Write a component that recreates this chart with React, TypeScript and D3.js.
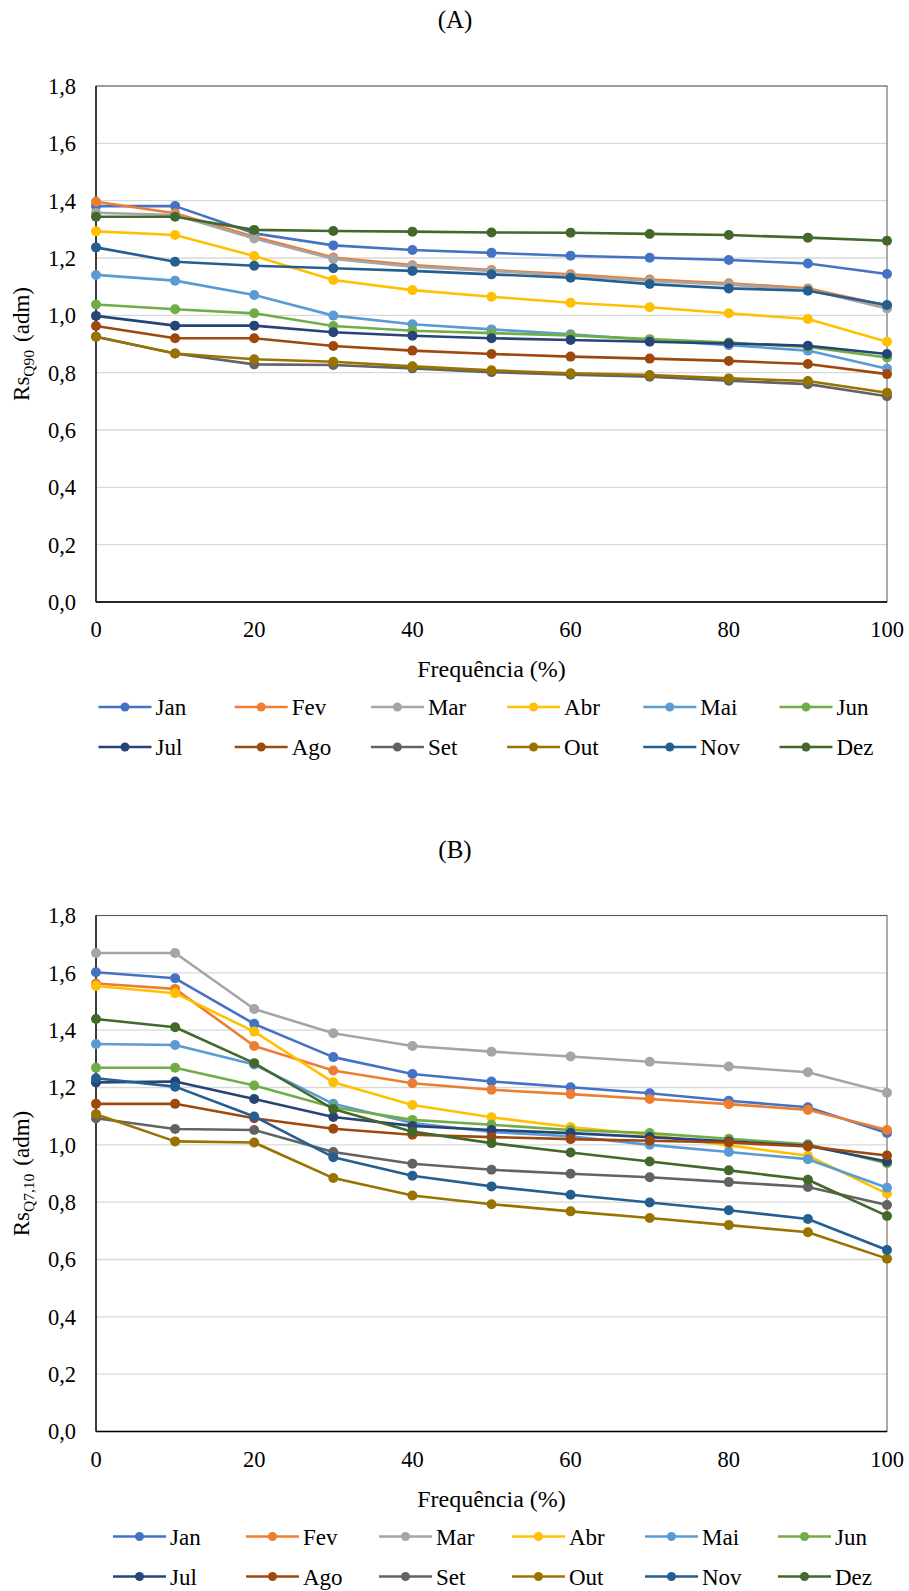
import React from 'react';
import * as d3 from 'd3';

const freq = [0, 10, 20, 30, 40, 50, 60, 70, 80, 90, 100];
const months = ['Jan', 'Fev', 'Mar', 'Abr', 'Mai', 'Jun', 'Jul', 'Ago', 'Set', 'Out', 'Nov', 'Dez'];
const colors = ['#4472C4', '#ED7D31', '#A5A5A5', '#FFC000', '#5B9BD5', '#70AD47', '#264478', '#9E480E', '#636363', '#997300', '#255E91', '#43682B'];
const yTicks = [0, 0.2, 0.4, 0.6, 0.8, 1.0, 1.2, 1.4, 1.6, 1.8];
const xTicks = [0, 20, 40, 60, 80, 100];

// (A) Rs Q90
const q90Jan = [1.381, 1.381, 1.286, 1.244, 1.228, 1.218, 1.208, 1.201, 1.193, 1.181, 1.144];
const q90Fev = [1.396, 1.356, 1.274, 1.202, 1.175, 1.158, 1.143, 1.125, 1.112, 1.094, 1.033];
const q90Mar = [1.358, 1.350, 1.268, 1.197, 1.170, 1.155, 1.138, 1.120, 1.107, 1.090, 1.024];
const q90Abr = [1.293, 1.280, 1.207, 1.123, 1.088, 1.065, 1.044, 1.028, 1.007, 0.987, 0.908];
const q90Mai = [1.141, 1.121, 1.071, 0.999, 0.969, 0.951, 0.934, 0.914, 0.896, 0.877, 0.814];
const q90Jun = [1.038, 1.021, 1.007, 0.963, 0.946, 0.938, 0.930, 0.917, 0.905, 0.890, 0.853];
const q90Jul = [0.998, 0.964, 0.964, 0.941, 0.929, 0.920, 0.914, 0.908, 0.902, 0.894, 0.865];
const q90Ago = [0.963, 0.920, 0.920, 0.893, 0.877, 0.865, 0.856, 0.849, 0.841, 0.830, 0.795];
const q90Set = [0.925, 0.867, 0.829, 0.827, 0.815, 0.802, 0.793, 0.786, 0.772, 0.760, 0.718];
const q90Out = [0.925, 0.867, 0.847, 0.838, 0.822, 0.808, 0.798, 0.792, 0.780, 0.771, 0.730];
const q90Nov = [1.237, 1.187, 1.173, 1.164, 1.155, 1.143, 1.131, 1.109, 1.094, 1.086, 1.036];
const q90Dez = [1.344, 1.344, 1.298, 1.294, 1.292, 1.289, 1.288, 1.284, 1.280, 1.271, 1.260];

// (B) Rs Q7,10
const q710Jan = [1.602, 1.581, 1.422, 1.306, 1.247, 1.221, 1.201, 1.180, 1.154, 1.131, 1.041];
const q710Fev = [1.563, 1.544, 1.345, 1.259, 1.215, 1.192, 1.177, 1.160, 1.142, 1.122, 1.052];
const q710Mar = [1.669, 1.669, 1.474, 1.389, 1.345, 1.325, 1.308, 1.290, 1.273, 1.253, 1.182];
const q710Abr = [1.554, 1.529, 1.395, 1.218, 1.139, 1.096, 1.062, 1.035, 0.998, 0.962, 0.830];
const q710Mai = [1.352, 1.348, 1.280, 1.143, 1.076, 1.045, 1.030, 1.000, 0.975, 0.950, 0.850];
const q710Jun = [1.269, 1.269, 1.207, 1.131, 1.087, 1.070, 1.052, 1.041, 1.021, 1.002, 0.936];
const q710Jul = [1.218, 1.221, 1.160, 1.097, 1.066, 1.052, 1.041, 1.027, 1.012, 0.997, 0.942];
const q710Ago = [1.143, 1.143, 1.093, 1.056, 1.035, 1.027, 1.020, 1.014, 1.008, 0.994, 0.963];
const q710Set = [1.093, 1.055, 1.052, 0.975, 0.934, 0.913, 0.899, 0.887, 0.870, 0.853, 0.790];
const q710Out = [1.107, 1.012, 1.008, 0.884, 0.823, 0.793, 0.768, 0.745, 0.720, 0.695, 0.603];
const q710Nov = [1.232, 1.203, 1.099, 0.957, 0.892, 0.855, 0.826, 0.799, 0.772, 0.741, 0.633];
const q710Dez = [1.439, 1.410, 1.285, 1.125, 1.046, 1.006, 0.973, 0.942, 0.911, 0.878, 0.752];

const seriesA = [q90Jan, q90Fev, q90Mar, q90Abr, q90Mai, q90Jun, q90Jul, q90Ago, q90Set, q90Out, q90Nov, q90Dez];
const seriesB = [q710Jan, q710Fev, q710Mar, q710Abr, q710Mai, q710Jun, q710Jul, q710Ago, q710Set, q710Out, q710Nov, q710Dez];

const FONT = "'Liberation Serif', 'Times New Roman', Times, serif";

type ChartProps = {
  offset: number;
  title: string;
  sub: string;
  series: number[][];
  legendX: number;
  legendStep: number;
};

function Chart({ offset, title, sub, series, legendX, legendStep }: ChartProps) {
  const left = 96;
  const right = 887;
  const top = 86 + offset;
  const bottom = 602 + offset;
  const x = d3.scaleLinear().domain([0, 100]).range([left, right]);
  const y = d3.scaleLinear().domain([0, 1.8]).range([bottom, top]);
  const line = d3
    .line<number>()
    .x((_, i) => x(freq[i]))
    .y((d) => y(d));
  const fmt = (v: number) => v.toFixed(1).replace('.', ',');
  const midY = (top + bottom) / 2;
  return (
    <g style={{ fontFamily: FONT }} fill="#000">
      <text x={455} y={28 + offset} fontSize={25} textAnchor="middle">
        {title}
      </text>
      {yTicks.map((t) => (
        <line key={'g' + t} x1={left} x2={right} y1={y(t)} y2={y(t)} stroke="#D9D9D9" strokeWidth={1.3} />
      ))}
      <rect x={left} y={top} width={right - left} height={bottom - top} fill="none" stroke="#595959" strokeWidth={1} />
      <line x1={left} x2={left} y1={top} y2={bottom} stroke="#000" strokeWidth={1.3} />
      <line x1={left} x2={right} y1={bottom} y2={bottom} stroke="#000" strokeWidth={1.3} />
      {yTicks.map((t) => (
        <text key={'yt' + t} x={76} y={y(t)} dy="0.35em" fontSize={22.5} textAnchor="end">
          {fmt(t)}
        </text>
      ))}
      {xTicks.map((t) => (
        <text key={'xt' + t} x={x(t)} y={637 + offset} fontSize={22.5} textAnchor="middle">
          {t}
        </text>
      ))}
      <text x={(left + right) / 2} y={677 + offset} fontSize={24} textAnchor="middle">
        Frequência (%)
      </text>
      <text transform={`translate(29,${midY}) rotate(-90)`} fontSize={23} textAnchor="middle">
        Rs
        <tspan fontSize={15.5} dy={5}>
          {sub}
        </tspan>
        <tspan dy={-5} dx={8}>
          (adm)
        </tspan>
      </text>
      {series.map((s, k) => (
        <g key={'s' + k}>
          <path d={line(s) || ''} fill="none" stroke={colors[k]} strokeWidth={2.6} strokeLinejoin="round" />
          {s.map((v, i) => (
            <circle key={i} cx={x(freq[i])} cy={y(v)} r={5} fill={colors[k]} />
          ))}
        </g>
      ))}
      {months.map((m, k) => {
        const col = k % 6;
        const row = Math.floor(k / 6);
        const lx = legendX + col * legendStep;
        const ly = 707 + offset + row * 40;
        return (
          <g key={'l' + m}>
            <line x1={lx} x2={lx + 53} y1={ly} y2={ly} stroke={colors[k]} strokeWidth={2.6} />
            <circle cx={lx + 26.5} cy={ly} r={4.5} fill={colors[k]} />
            <text x={lx + 57} y={ly} dy="0.35em" fontSize={23}>
              {m}
            </text>
          </g>
        );
      })}
    </g>
  );
}

export default function App() {
  return (
    <svg
      width={909}
      height={1591}
      viewBox="0 0 909 1591"
      style={{ position: 'absolute', left: 0, top: 0, background: '#fff', fontFamily: FONT }}
    >
      <rect width={909} height={1591} fill="#fff" />
      <Chart offset={0} title="(A)" sub="Q90" series={seriesA} legendX={98.5} legendStep={136.2} />
      <Chart offset={829.5} title="(B)" sub="Q7,10" series={seriesB} legendX={113} legendStep={133} />
    </svg>
  );
}
